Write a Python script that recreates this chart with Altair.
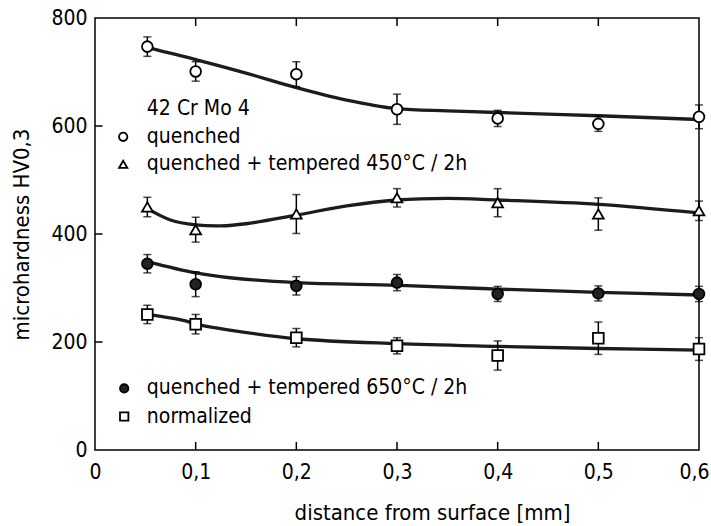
import altair as alt
import pandas as pd

FONT = "Liberation Sans Narrow, DejaVu Sans Condensed, Arial Narrow, sans-serif"

# measurement positions (distance from surface, mm)
x_pos = [0.052, 0.1, 0.2, 0.3, 0.4, 0.5, 0.6]
series_names = ["quenched", "tempered450", "tempered650", "normalized"]

# microhardness HV0,3 and error half-widths
quenched_hv = [747, 701, 696, 631, 614, 604, 617]
quenched_err = [18, 18, 23, 28, 15, 14, 22]
t450_hv = [450, 408, 437, 467, 458, 437, 443]
t450_err = [18, 23, 36, 17, 26, 30, 18]
t650_hv = [345, 307, 304, 310, 289, 290, 289]
t650_err = [17, 23, 17, 15, 14, 14, 14]
norm_hv = [251, 233, 208, 193, 175, 207, 187]
norm_err = [17, 18, 17, 15, 27, 30, 21]

# fitted curves
curve_q_x = [0.052, 0.1, 0.15, 0.2, 0.25, 0.3, 0.35, 0.4, 0.5, 0.6]
curve_q_y = [745, 723, 698, 671, 648, 632, 628, 625, 619, 612]
curve_450_x = [0.052, 0.075, 0.1, 0.125, 0.15, 0.2, 0.25, 0.3, 0.35, 0.4, 0.5, 0.6]
curve_450_y = [447, 426, 417, 415, 419, 435, 452, 463, 466, 463, 455, 439]
curve_650_x = [0.052, 0.1, 0.134, 0.2, 0.3, 0.371, 0.4, 0.5, 0.6]
curve_650_y = [349, 328, 319, 310, 305, 300, 298, 292, 287]
curve_n_x = [0.052, 0.09, 0.1, 0.134, 0.2, 0.3, 0.4, 0.5, 0.6]
curve_n_y = [251, 239, 233, 222, 206, 197, 192, 188, 185]

# annotation texts
legend_labels = ["quenched", "quenched + tempered  450°C / 2h",
                 "quenched + tempered  650°C / 2h", "normalized"]
alloy_label = "42 Cr Mo 4"

x_ticks = [0, 0.1, 0.2, 0.3, 0.4, 0.5, 0.6]
y_ticks = [0, 200, 400, 600, 800]

# ---- build tables ----
hv = [quenched_hv, t450_hv, t650_hv, norm_hv]
errs = [quenched_err, t450_err, t650_err, norm_err]
rows = []
for s, ys, es in zip(series_names, hv, errs):
    for x, y, e in zip(x_pos, ys, es):
        rows.append({"x": x, "y": y, "lo": y - e, "hi": y + e, "series": s})
pts = pd.DataFrame(rows)

crows = []
for s, cx, cy in zip(series_names,
                     [curve_q_x, curve_450_x, curve_650_x, curve_n_x],
                     [curve_q_y, curve_450_y, curve_650_y, curve_n_y]):
    for i, (x, y) in enumerate(zip(cx, cy)):
        crows.append({"x": x, "y": y, "series": s, "order": i})
curves = pd.DataFrame(crows)

leg = pd.DataFrame({
    "sx": [0.028, 0.028, 0.029, 0.029],
    "tx": [0.0515, 0.0515, 0.0515, 0.0515],
    "y": [580, 529, 114, 62],
    "series": series_names,
    "label": legend_labels,
})
alloy = pd.DataFrame({"x": [0.0515], "y": [631], "label": [alloy_label]})

inner_x = [t for t in x_ticks if 0 < t < 0.6]
inner_y = [t for t in y_ticks if 0 < t < 800]
tick_bottom = pd.DataFrame({"x": inner_x, "y": [0] * len(inner_x), "y2": [15] * len(inner_x)})
tick_top = pd.DataFrame({"x": inner_x, "y": [785] * len(inner_x), "y2": [800] * len(inner_x)})
tick_left = pd.DataFrame({"y": inner_y, "x": [0] * len(inner_y), "x2": [0.0075] * len(inner_y)})

xscale = alt.Scale(domain=[0, 0.6], nice=False, zero=False)
yscale = alt.Scale(domain=[0, 800], nice=False)

shape_scale = alt.Scale(domain=series_names,
                        range=["circle", "triangle-up", "circle", "square"])
fill_scale = alt.Scale(domain=series_names,
                       range=["white", "white", "#222222", "white"])

xaxis = alt.Axis(values=x_ticks,
                 labelExpr="datum.value == 0 ? '0' : replace(format(datum.value, '.1f'), '.', ',')",
                 labelOffset={"condition": {"test": "datum.value >= 0.59", "value": -5}, "value": 0},
                 ticks=False, domain=False, grid=False, labelFlush=False,
                 labelFont=FONT, labelFontSize=21, labelColor="black", labelPadding=11,
                 title="distance from surface [mm]", titleFont=FONT, titleFontSize=22,
                 titleFontWeight="normal", titleColor="black",
                 titleX=337, titleY=62, titleAlign="center", titleBaseline="middle")
yaxis = alt.Axis(values=y_ticks, ticks=False, domain=False, grid=False,
                 labelFont=FONT, labelFontSize=21, labelColor="black", labelPadding=8,
                 labelBaseline="middle",
                 title="microhardness HV0,3", titleFont=FONT, titleFontSize=22,
                 titleFontWeight="normal", titleColor="black",
                 titleX=-74, titleY=216, titleAngle=270,
                 titleAlign="center", titleBaseline="middle")

X = alt.X("x:Q", scale=xscale, axis=xaxis)
Y = alt.Y("y:Q", scale=yscale, axis=yaxis)

curve_layer = alt.Chart(curves).mark_line(
    interpolate="catmull-rom", color="#1c1c1c", strokeWidth=3.3
).encode(x=X, y=Y, detail="series:N", order="order:Q")

err_layer = alt.Chart(pts).mark_rule(color="black", strokeWidth=1.5).encode(
    x=alt.X("x:Q", scale=xscale), y=alt.Y("lo:Q", scale=yscale), y2="hi:Q")
cap_lo = alt.Chart(pts).mark_tick(orient="horizontal", color="black", size=8,
                                  thickness=1.5).encode(
    x=alt.X("x:Q", scale=xscale), y=alt.Y("lo:Q", scale=yscale))
cap_hi = alt.Chart(pts).mark_tick(orient="horizontal", color="black", size=8,
                                  thickness=1.5).encode(
    x=alt.X("x:Q", scale=xscale), y=alt.Y("hi:Q", scale=yscale))

point_layer = alt.Chart(pts).mark_point(
    filled=False, size=115, strokeWidth=1.8, stroke="black", opacity=1
).encode(
    x=alt.X("x:Q", scale=xscale), y=alt.Y("y:Q", scale=yscale),
    shape=alt.Shape("series:N", scale=shape_scale, legend=None),
    fill=alt.Fill("series:N", scale=fill_scale, legend=None),
)

leg_sym = alt.Chart(leg).mark_point(
    filled=False, size=70, strokeWidth=1.8, stroke="black", opacity=1
).encode(
    x=alt.X("sx:Q", scale=xscale), y=alt.Y("y:Q", scale=yscale),
    shape=alt.Shape("series:N", scale=shape_scale, legend=None),
    fill=alt.Fill("series:N", scale=fill_scale, legend=None),
)
leg_text = alt.Chart(leg).mark_text(
    align="left", baseline="middle", font=FONT, fontSize=21, color="black"
).encode(x=alt.X("tx:Q", scale=xscale), y=alt.Y("y:Q", scale=yscale), text="label:N")
alloy_text = alt.Chart(alloy).mark_text(
    align="left", baseline="middle", font=FONT, fontSize=21, color="black"
).encode(x=alt.X("x:Q", scale=xscale), y=alt.Y("y:Q", scale=yscale), text="label:N")

tb = alt.Chart(tick_bottom).mark_rule(color="black", strokeWidth=1.5).encode(
    x=alt.X("x:Q", scale=xscale), y=alt.Y("y:Q", scale=yscale), y2="y2:Q")
tt = alt.Chart(tick_top).mark_rule(color="black", strokeWidth=1.5).encode(
    x=alt.X("x:Q", scale=xscale), y=alt.Y("y:Q", scale=yscale), y2="y2:Q")
tl = alt.Chart(tick_left).mark_rule(color="black", strokeWidth=1.5).encode(
    x=alt.X("x:Q", scale=xscale), x2="x2:Q", y=alt.Y("y:Q", scale=yscale))

base = alt.Chart(curves).mark_point(opacity=0).encode(x=X, y=Y)

chart = alt.layer(
    base, tb, tt, tl, curve_layer, err_layer, cap_lo, cap_hi, point_layer,
    leg_sym, leg_text, alloy_text
).properties(
    width=604, height=432,
    padding={"left": 95, "top": 18, "right": 12, "bottom": 76},
    autosize="none", background="white",
).configure_view(stroke="black", strokeWidth=1.5)

chart.save("out.html", embed_options={"renderer": "svg", "actions": False})
